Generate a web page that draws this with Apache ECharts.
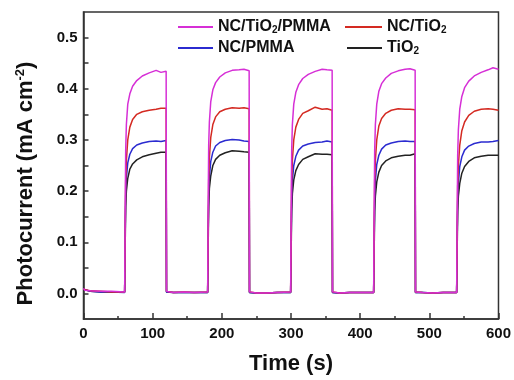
<!DOCTYPE html>
<html>
<head>
<meta charset="utf-8">
<script src="https://cdn.jsdelivr.net/npm/echarts@6/dist/echarts.min.js"></script>
<style>html,body{margin:0;padding:0;background:#fff}#c{width:514px;height:380px}</style>
</head>
<body>
<div id="c"></div>
<script>
// Time (s) sample points
var time = [
  0,2,10,25,40,59.5, 60,60.5,61,62,64,67,71,77,85,95,105,112,119.5,
  120,122,130,145,160,179.5, 180,180.5,181,182,184,187,191,197,205,215,225,232,239.5,
  240,242,250,265,280,299.5, 300,300.5,301,302,304,307,311,317,325,335,345,352,359.5,
  360,362,370,385,400,419.5, 420,420.5,421,422,424,427,431,437,445,455,465,472,479.5,
  480,482,490,505,520,539.5, 540,540.5,541,542,544,547,551,557,565,575,585,592,600
];
// Photocurrent (mA cm^-2)
var ncTiO2PMMA = [
  0.010,0.006,0.005,0.004,0.004,0.003, 0.003,0.20,0.28,0.33,0.37,0.39,0.405,0.416,0.425,0.431,0.436,0.432,0.434,
  0.004,0.003,0.002,0.003,0.002,0.003, 0.003,0.21,0.29,0.335,0.375,0.398,0.412,0.423,0.431,0.436,0.437,0.438,0.435,
  0.003,0.002,0.001,0.001,0.002,0.003, 0.003,0.20,0.28,0.33,0.37,0.393,0.408,0.420,0.428,0.434,0.438,0.437,0.436,
  0.003,0.002,0.001,0.002,0.002,0.002, 0.002,0.20,0.28,0.33,0.37,0.395,0.410,0.421,0.430,0.435,0.438,0.439,0.436,
  0.003,0.002,0.002,0.001,0.002,0.002, 0.002,0.19,0.27,0.32,0.36,0.385,0.402,0.415,0.425,0.432,0.437,0.441,0.438
];
var ncTiO2 = [
  0.008,0.006,0.005,0.004,0.003,0.003, 0.003,0.15,0.22,0.26,0.30,0.325,0.340,0.350,0.355,0.358,0.360,0.362,0.362,
  0.004,0.003,0.002,0.003,0.002,0.003, 0.003,0.15,0.22,0.265,0.305,0.330,0.345,0.355,0.360,0.363,0.362,0.363,0.361,
  0.003,0.002,0.001,0.001,0.002,0.003, 0.003,0.15,0.22,0.26,0.30,0.325,0.340,0.352,0.357,0.364,0.360,0.361,0.358,
  0.003,0.002,0.001,0.002,0.002,0.002, 0.002,0.15,0.22,0.26,0.30,0.327,0.342,0.352,0.358,0.361,0.360,0.360,0.359,
  0.003,0.002,0.002,0.001,0.002,0.002, 0.002,0.14,0.21,0.25,0.29,0.318,0.335,0.348,0.356,0.360,0.361,0.360,0.358
];
var ncPMMA = [
  0.008,0.006,0.004,0.003,0.003,0.002, 0.002,0.14,0.19,0.225,0.255,0.272,0.283,0.290,0.294,0.297,0.298,0.297,0.299,
  0.003,0.002,0.002,0.002,0.002,0.002, 0.002,0.14,0.19,0.228,0.258,0.276,0.288,0.295,0.299,0.301,0.300,0.298,0.297,
  0.002,0.002,0.001,0.001,0.002,0.002, 0.002,0.13,0.18,0.22,0.25,0.268,0.280,0.288,0.292,0.295,0.296,0.298,0.296,
  0.002,0.002,0.001,0.002,0.002,0.002, 0.002,0.13,0.18,0.22,0.252,0.270,0.282,0.290,0.294,0.297,0.298,0.297,0.297,
  0.002,0.002,0.002,0.001,0.002,0.002, 0.002,0.13,0.18,0.215,0.248,0.267,0.280,0.288,0.293,0.296,0.296,0.297,0.299
];
var tiO2 = [
  0.008,0.006,0.004,0.003,0.003,0.003, 0.003,0.12,0.17,0.20,0.225,0.243,0.253,0.261,0.267,0.271,0.274,0.276,0.276,
  0.003,0.002,0.002,0.002,0.002,0.002, 0.002,0.12,0.17,0.205,0.23,0.250,0.262,0.270,0.275,0.279,0.278,0.277,0.276,
  0.002,0.002,0.001,0.001,0.002,0.002, 0.002,0.11,0.16,0.195,0.222,0.240,0.252,0.262,0.267,0.273,0.272,0.272,0.271,
  0.002,0.002,0.001,0.002,0.002,0.002, 0.002,0.11,0.16,0.19,0.218,0.237,0.250,0.259,0.265,0.268,0.270,0.270,0.273,
  0.002,0.002,0.002,0.001,0.002,0.002, 0.002,0.11,0.16,0.19,0.215,0.235,0.248,0.258,0.265,0.268,0.270,0.270,0.270
];
var xTicks = [0,100,200,300,400,500,600];
var yLabels = [0,0.1,0.2,0.3,0.4,0.5];
var yTicks = [0,0.05,0.1,0.15,0.2,0.25,0.3,0.35,0.4,0.45,0.5];

function pairs(v){ return time.map(function(t,i){ return [t, v[i]]; }); }
var FONT = 'Liberation Sans, Arial, sans-serif';
var C = {'NC/TiO2/PMMA':'#d62fd6','NC/TiO2':'#d42a22','NC/PMMA':'#2b2bd0','TiO2':'#222222'};
function fmtName(n){
  return n.replace(/2/g, '{sub|2}');
}
function legend(name, left, top, w){
  return {
    data:[name], left:left, top:top, padding:0, itemWidth:w, itemHeight:14, itemGap:0,
    icon:'path://M0,6 L35,6 L35,8 L0,8 Z',
    formatter: fmtName,
    textStyle:{fontFamily:FONT, fontWeight:'bold', fontSize:16, color:'#111',
      rich:{sub:{fontFamily:FONT, fontWeight:'bold', fontSize:10, color:'#111', verticalAlign:'bottom', lineHeight:10}}}
  };
}
var chart = echarts.init(document.getElementById('c'));
function line(name, vals){
  return {name:name, type:'line', data:pairs(vals), symbol:'none', showSymbol:false,
    lineStyle:{width:1.5, color:C[name]}, itemStyle:{color:C[name]}, animation:false};
}
chart.setOption({
  animation:false,
  backgroundColor:'#fff',
  grid:{left:83.5, right:15.5, top:12, bottom:61, show:true, borderColor:'#333', borderWidth:1.5, containLabel:false},
  legend:[
    legend('NC/TiO2/PMMA', 178, 19, 35),
    legend('NC/TiO2', 345, 19, 37),
    legend('NC/PMMA', 178, 40, 35),
    legend('TiO2', 347, 40, 35)
  ],
  xAxis:{
    type:'value', min:0, max:600, interval:100,
    axisLine:{onZero:false, lineStyle:{color:'#333', width:1.5}},
    axisTick:{inside:true, length:6, lineStyle:{color:'#333', width:1.5}},
    minorTick:{show:true, splitNumber:2, length:3, lineStyle:{color:'#333', width:1.5}},
    splitLine:{show:false},
    axisLabel:{fontFamily:FONT, fontWeight:'bold', fontSize:15, color:'#111', margin:7,
      customValues: xTicks},
    name:'Time (s)', nameLocation:'middle', nameGap:34,
    nameTextStyle:{fontFamily:FONT, fontWeight:'bold', fontSize:22, color:'#111'}
  },
  yAxis:{
    type:'value', min:-0.05, max:0.55, interval:0.05,
    axisLine:{show:true, onZero:false, lineStyle:{color:'#333', width:1.5}},
    axisTick:{show:true, inside:true, length:5, lineStyle:{color:'#333', width:1.5}, customValues:yTicks},
    splitLine:{show:false},
    axisLabel:{fontFamily:FONT, fontWeight:'bold', fontSize:15, color:'#111', margin:6,
      customValues:yLabels, formatter:function(v){ return v.toFixed(1); }},
    name:'Photocurrent (mA cm{sup|-2})', nameLocation:'middle', nameGap:46,
    nameTextStyle:{fontFamily:FONT, fontWeight:'bold', fontSize:22, color:'#111', padding:[0,36,0,0], lineHeight:24,
      rich:{sup:{fontFamily:FONT, fontWeight:'bold', fontSize:13, color:'#111', verticalAlign:'top', lineHeight:12}}}
  },
  series:[
    line('TiO2', tiO2),
    line('NC/PMMA', ncPMMA),
    line('NC/TiO2', ncTiO2),
    line('NC/TiO2/PMMA', ncTiO2PMMA)
  ]
});
</script>
</body>
</html>
